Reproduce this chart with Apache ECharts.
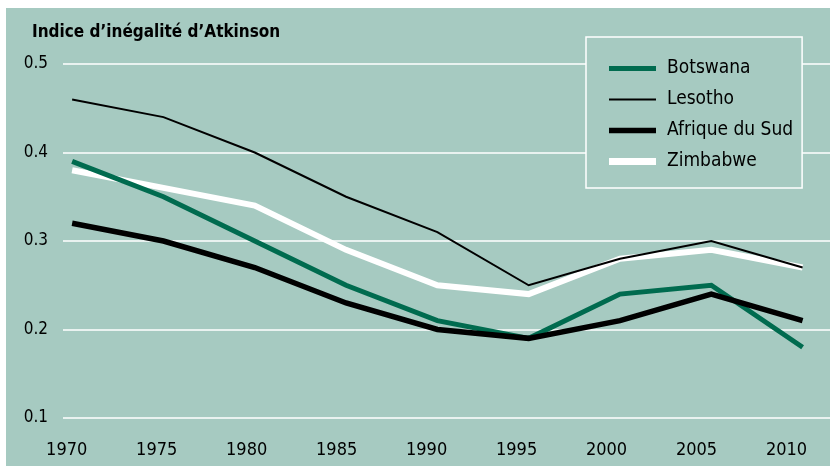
<!DOCTYPE html>
<html>
<head>
<meta charset="utf-8">
<script src="https://cdn.jsdelivr.net/npm/echarts@6/dist/echarts.min.js"></script>
<style>
  html, body { margin: 0; padding: 0; background: #fff; }
  #chart { width: 830px; height: 466px; }
</style>
</head>
<body>
<div id="chart"></div>
<script>
// années et valeurs
const years = [1970, 1975, 1980, 1985, 1990, 1995, 2000, 2005, 2010];
const botswana = [0.39, 0.35, 0.30, 0.25, 0.21, 0.19, 0.24, 0.25, 0.18];
const lesotho = [0.46, 0.44, 0.40, 0.35, 0.31, 0.25, 0.28, 0.30, 0.27];
const afriqueSud = [0.32, 0.30, 0.27, 0.23, 0.20, 0.19, 0.21, 0.24, 0.21];
const zimbabwe = [0.38, 0.36, 0.34, 0.29, 0.25, 0.24, 0.28, 0.29, 0.27];
const yTicks = [0.1, 0.2, 0.3, 0.4, 0.5];

const FONT = "'DejaVu Sans Condensed', 'Liberation Sans Narrow', 'Roboto', sans-serif";
const BG = '#a6cac1';

function pairs(vals) {
  return years.map((y, i) => [y, vals[i]]);
}

function lineSeries(name, vals, color, width, z) {
  return {
    name: name,
    type: 'line',
    data: pairs(vals),
    symbol: 'none',
    z: z,
    lineStyle: { color: color, width: width, cap: 'butt', join: 'miter' },
    itemStyle: { color: color }
  };
}

// trait de légende (épaisseur propre à chaque série)
function legendBar(h) {
  return 'path://M0,0H47V' + h + 'H0Z';
}

const chart = echarts.init(document.getElementById('chart'), null, { renderer: 'canvas' });

chart.setOption({
  animation: false,
  backgroundColor: '#ffffff',
  textStyle: { fontFamily: FONT },
  graphic: [{
    type: 'rect',
    z: -10,
    silent: true,
    shape: { x: 6, y: 8, width: 824, height: 458 },
    style: { fill: BG }
  }],
  title: {
    text: 'Indice d\u2019inégalité d\u2019Atkinson',
    left: 32,
    top: 24,
    padding: 0,
    textStyle: { fontFamily: FONT, fontSize: 17, fontWeight: 'bold', color: '#000' }
  },
  legend: {
    orient: 'vertical',
    left: 586,
    top: 37,
    padding: [22, 9, 17, 23],
    itemWidth: 47,
    itemHeight: 14,
    itemGap: 12,
    backgroundColor: BG,
    borderColor: '#ffffff',
    borderWidth: 1.5,
    z: 10,
    data: [
      { name: 'Botswana', icon: legendBar(5) },
      { name: 'Lesotho', icon: legendBar(2) },
      { name: 'Afrique du Sud', icon: legendBar(5.5) },
      { name: 'Zimbabwe', icon: legendBar(7) }
    ],
    textStyle: { fontFamily: FONT, fontSize: 19, lineHeight: 14, color: '#000', padding: [0, 0, 0, 6] }
  },
  grid: { left: 63, right: 0, top: 64, bottom: 48 },
  xAxis: [{
    // axe des tracés
    type: 'value',
    min: 1969.5,
    max: 2011.5,
    axisLine: { show: false },
    axisTick: { show: false },
    splitLine: { show: false },
    axisLabel: { show: false }
  }, {
    // axe des étiquettes d'années
    type: 'value',
    position: 'bottom',
    min: 1969.794,
    max: 2012.417,
    splitNumber: 8,
    axisLine: { show: false },
    axisTick: { show: false },
    splitLine: { show: false },
    axisLabel: {
      showMinLabel: false,
      showMaxLabel: false,
      margin: 23,
      fontSize: 18,
      color: '#000',
      fontFamily: FONT,
      formatter: function (v) { return years.indexOf(v) >= 0 ? String(v) : ''; }
    }
  }],
  yAxis: {
    type: 'value',
    min: yTicks[0],
    max: yTicks[yTicks.length - 1],
    interval: 0.1,
    axisLine: { show: false },
    axisTick: { show: false },
    splitLine: { show: true, lineStyle: { color: '#ffffff', width: 1.5 } },
    axisLabel: {
      margin: 15,
      fontSize: 17,
      color: '#000',
      fontFamily: FONT,
      formatter: function (v) { return v.toFixed(1); }
    }
  },
  series: [
    lineSeries('Botswana', botswana, '#006b4f', 5, 3),
    lineSeries('Lesotho', lesotho, '#000000', 2, 5),
    lineSeries('Afrique du Sud', afriqueSud, '#000000', 5.5, 4),
    lineSeries('Zimbabwe', zimbabwe, '#ffffff', 6, 2)
  ]
});
</script>
</body>
</html>
